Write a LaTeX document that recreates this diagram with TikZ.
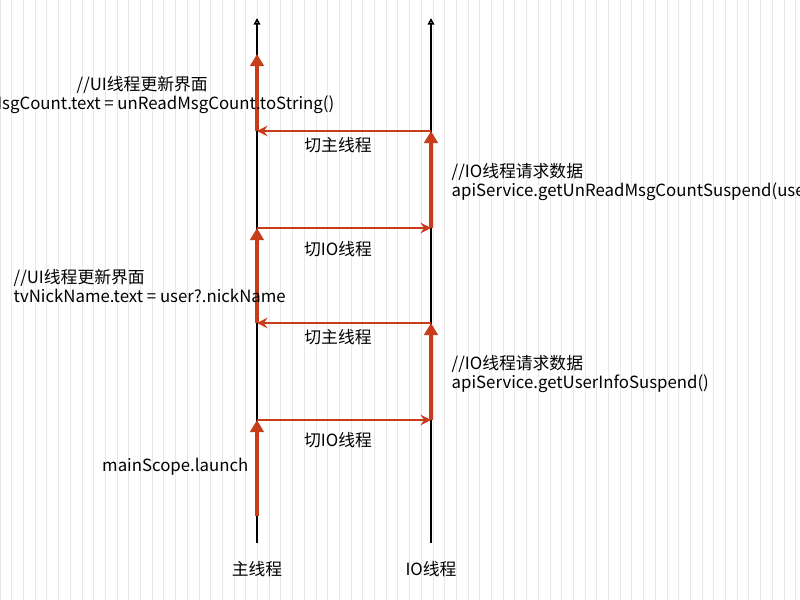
\documentclass[tikz,border=0pt]{standalone}
\usepackage{fontspec}
\setmainfont{Noto Sans CJK SC}
\usepackage{tikz}
\usetikzlibrary{arrows.meta}
\definecolor{flow}{RGB}{200,60,25}

\begin{document}
\begin{tikzpicture}[x=0.75pt, y=-0.75pt, font=\fontsize{12.6}{14.5}\selectfont,
    thread/.style={black, line width=1.2pt, -{Triangle[open, length=5pt, width=5pt]}},
    run/.style={flow, line width=2.6pt, -{Triangle[length=9pt, width=10pt]}},
    switch/.style={flow, line width=1.3pt, -{Stealth[length=8pt, width=8pt, inset=3pt]}}]
    \useasboundingbox (0, 0) rectangle (800, 600);
    \clip (0, 0) rectangle (800, 600);
    \fill[white] (0, 0) rectangle (800, 600);
    \draw[black!9, line width=0.5pt, step=11.7] (0, 0) grid (800, 600);

    \coordinate (M0) at (257, 543);
    \coordinate (MT) at (257, 18);
    \coordinate (I0) at (431, 543);
    \coordinate (IT) at (431, 18);

    \coordinate (M1) at (257, 516);
    \coordinate (M2) at (257, 420);
    \coordinate (I2) at (431, 420);
    \coordinate (I3) at (431, 323);
    \coordinate (M3) at (257, 323);
    \coordinate (M4) at (257, 228);
    \coordinate (I4) at (431, 228);
    \coordinate (I5) at (431, 131);
    \coordinate (M5) at (257, 131);
    \coordinate (M6) at (257, 54);

    \draw[thread] (M0) -- (MT); % main
    \draw[thread] (I0) -- (IT); % io

    \draw[run] (M1) -- (M2);
    \draw[switch] (M2) -- (I2);
    \draw[run] (I2) -- (I3);
    \draw[switch] (I3) -- (M3);
    \draw[run] (M3) -- (M4);
    \draw[switch] (M4) -- (I4);
    \draw[run] (I4) -- (I5);
    \draw[switch] (I5) -- (M5);
    \draw[run] (M5) -- (M6);

    \node (lm) at (257, 569) {主线程};
    \node (li) at (431, 569) {IO线程};
    \node (s1) at (338, 440) {切IO线程};
    \node (s2) at (338, 337) {切主线程};
    \node (s3) at (338, 249) {切IO线程};
    \node (s4) at (338, 145) {切主线程};
    \node[anchor=east] (launch) at (253, 467) {mainScope.launch};

    \node[anchor=west, align=left] (io1) at (447, 374) {//IO线程请求数据\\apiService.getUserInfoSuspend()};
    \node[anchor=west, align=left] (io2) at (447, 182) {//IO线程请求数据\\apiService.getUnReadMsgCountSuspend(user)};
    \node[anchor=west, align=left] (ui1) at (9, 286) {//UI线程更新界面\\tvNickName.text = user?.nickName};
    \node[anchor=west] (ui2a) at (72, 85) {//UI线程更新界面};
    \node[anchor=east] (ui2b) at (339, 105) {tvUnReadMsgCount.text = unReadMsgCount.toString()};
\end{tikzpicture}
\end{document}
